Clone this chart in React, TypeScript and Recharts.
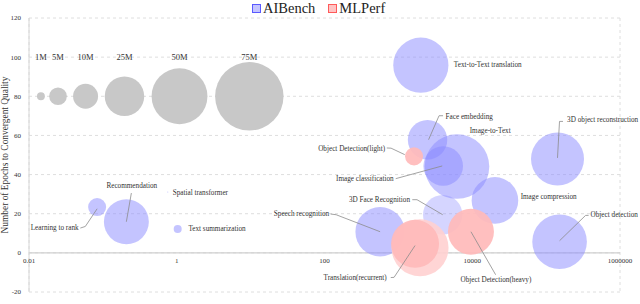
import {
  ScatterChart, Scatter, XAxis, YAxis, ZAxis, CartesianGrid, ReferenceLine, ReferenceDot,
} from 'recharts'

const FONT = '"Liberation Serif", "DejaVu Serif", "Noto Serif", "Times New Roman", serif'
const TEXT = '#333'

// grey size-legend bubbles (million parameters)
const SIZE_LABELS = ['1M', '5M', '10M', '25M', '50M', '75M']
const SIZE_PARAMS = [1, 5, 10, 25, 50, 75]
const SIZE_FLOPS = [0.0145, 0.0247, 0.0583, 0.196, 1.09, 9.6]
const SIZE_EPOCHS = 80
const SIZE_LABEL_EPOCHS = 100

const AIBENCH_TASKS = [
  'Recommendation', 'Learning to rank', 'Spatial transformer', 'Text summarization',
  'Speech recognition', 'Text-to-Text translation', 'Face embedding', '3D Face Recognition',
  'Image-to-Text', 'Image classification', 'Image compression', '3D object reconstruction',
  'Object detection',
]
const AIBENCH_FLOPS = [0.208, 0.0836, 0.755, 1.03, 566, 2014, 2483, 3981, 6213, 4045, 20280, 142600, 152100]
const AIBENCH_EPOCHS = [15.9, 23.4, 31.1, 12.2, 10.8, 95.9, 57.8, 19.5, 44.1, 44.4, 26.8, 48.0, 5.7]
const AIBENCH_PARAMS = [32.4, 5.2, 0.02, 1.03, 39.1, 48.8, 24.9, 24.9, 66.9, 25.1, 34.8, 45.0, 47.8]

const MLPERF_TASKS = ['Object Detection(light)', 'Translation(non-recurrent)', 'Translation(recurrent)', 'Object Detection(heavy)']
const MLPERF_FLOPS = [1630, 1965, 1682, 9600]
const MLPERF_EPOCHS = [49.3, 2.6, 4.6, 10.8]
const MLPERF_PARAMS = [5.2, 52, 36.9, 33.9]

const X_TICKS = [0.01, 1, 100, 10000, 1000000]
const Y_TICKS = [-20, 0, 20, 40, 60, 80, 100, 120]

const sizeData = SIZE_LABELS.map((label, i) => ({ label, x: SIZE_FLOPS[i], y: SIZE_EPOCHS, z: SIZE_PARAMS[i] }))
const sizeLabelData = SIZE_LABELS.map((label, i) => ({ label, x: SIZE_FLOPS[i], y: SIZE_LABEL_EPOCHS }))
const aibenchData = AIBENCH_TASKS.map((name, i) => ({ name, x: AIBENCH_FLOPS[i], y: AIBENCH_EPOCHS[i], z: AIBENCH_PARAMS[i] }))
const mlperfData = MLPERF_TASKS.map((name, i) => ({ name, x: MLPERF_FLOPS[i], y: MLPERF_EPOCHS[i], z: MLPERF_PARAMS[i] }))
const allData = [...aibenchData, ...mlperfData]

// bubble area in px^2 per million parameters
const AREA_PER_M = Math.PI * 3.95 * 3.95

const BLUE = { fill: '#8a8aff', opacity: 0.5 }
const RED = { fill: '#ffbaba', opacity: 0.92 }
const FILL_OVERRIDE: Record<string, { fill: string; opacity: number }> = {
  '3D Face Recognition': { fill: '#8a8aff', opacity: 0.36 },
  'Translation(non-recurrent)': { fill: '#ffd0d0', opacity: 0.9 },
}

type Layout = { dx: number; dy: number; anchor: 'start' | 'middle' | 'end'; leader?: [number, number][] }
const LABELS: Record<string, Layout> = {
  'Text-to-Text translation': { dx: 33, dy: 0, anchor: 'start' },
  'Face embedding': { dx: 18, dy: -23, anchor: 'start', leader: [[1, 0], [11.5, -24], [15.5, -24]] },
  'Image-to-Text': { dx: 12.7, dy: -36, anchor: 'start' },
  'Image classification': { dx: -49.5, dy: 13, anchor: 'end', leader: [[-1, 0], [-47.5, 12.7]] },
  '3D object reconstruction': { dx: 9.6, dy: -38.5, anchor: 'start', leader: [[0, -1], [2, -37.5], [5.5, -37.5]] },
  'Image compression': { dx: 25.7, dy: -3.4, anchor: 'start' },
  'Object detection': { dx: 31, dy: -26.7, anchor: 'start', leader: [[0, -1], [26, -26.3], [29, -26.3]] },
  'Speech recognition': { dx: -51, dy: -17.7, anchor: 'end', leader: [[-49.5, -17.7], [-44, -17], [0, 0]] },
  '3D Face Recognition': { dx: -32.7, dy: -15, anchor: 'end', leader: [[-30.4, -15], [-25.7, -15], [0, 0]] },
  'Recommendation': { dx: 5.4, dy: -35.3, anchor: 'middle', leader: [[0, 0], [5, -28.7]] },
  'Learning to rank': { dx: -18.5, dy: 21, anchor: 'end', leader: [[-16.8, 21], [-11.8, 19.4], [0, 1.7]] },
  'Text summarization': { dx: 10.7, dy: 0, anchor: 'start' },
  'Spatial transformer': { dx: 5, dy: 1, anchor: 'start' },
  'Object Detection(light)': { dx: -29, dy: -7.4, anchor: 'end', leader: [[-27.3, -8.4], [-23, -8.2], [-9.3, -1.7]] },
  'Translation(recurrent)': { dx: -28.3, dy: 34.3, anchor: 'end', leader: [[-24.3, 33.7], [-21, 33.5], [0, 1.7]] },
  'Object Detection(heavy)': { dx: 25, dy: 48, anchor: 'middle', leader: [[0, 0], [24.7, 43]] },
}

const bubble = (base: { fill: string; opacity: number }) => (props: any) => {
  const { cx, cy, width, payload } = props
  const style = FILL_OVERRIDE[payload?.name] ?? base
  return <circle cx={cx} cy={cy} r={Math.max(width / 2, 0.5)} fill={style.fill} fillOpacity={style.opacity} />
}

const greyBubble = (props: any) => (
  <circle cx={props.cx} cy={props.cy} r={props.width / 2} fill="#c8c8c8" />
)

const sizeLabel = (props: any) => (
  <text x={props.cx} y={props.cy} textAnchor="middle" dominantBaseline="central"
    fontSize={8.5} fontFamily={FONT} fill={TEXT}>
    {props.payload.label}
  </text>
)

const annotation = (props: any) => {
  const { cx, cy, payload } = props
  const lay = LABELS[payload.name]
  if (!lay) return <g />
  return (
    <g>
      {lay.leader && (
        <polyline
          points={lay.leader.map(([dx, dy]) => `${cx + dx},${cy + dy}`).join(' ')}
          fill="none" stroke="#8c8c8c" strokeWidth={0.8}
        />
      )}
      <text x={cx + lay.dx} y={cy + lay.dy} textAnchor={lay.anchor} dominantBaseline="central"
        fontSize={7.2} fontFamily={FONT} fill={TEXT}>
        {payload.name}
      </text>
    </g>
  )
}

function LegendBox() {
  const item = (label: string, border: string, fill: string) => (
    <div style={{ display: 'flex', alignItems: 'center', gap: 2 }}>
      <span style={{ width: 7, height: 7, border: `1.5px solid ${border}`, background: fill, display: 'inline-block' }} />
      <span>{label}</span>
    </div>
  )
  return (
    <div style={{
      position: 'absolute', top: -1, left: 252, display: 'flex', gap: 13,
      fontFamily: FONT, fontSize: 14.5, color: '#222', lineHeight: '18px',
    }}>
      {item('AIBench', '#5a5aff', '#c4c4ff')}
      {item('MLPerf', '#ff5a5a', '#ffc4c4')}
    </div>
  )
}

export default function App() {
  return (
    <div style={{ position: 'absolute', left: 0, top: 0, width: 640, height: 304, background: '#fff', fontFamily: FONT }}>
      <ScatterChart width={640} height={304} margin={{ top: 18, right: 20, bottom: 12, left: 0 }} style={{ fontFamily: FONT }}>
        <CartesianGrid strokeDasharray="3 3" stroke="#dedede" />
        <XAxis
          dataKey="x" type="number" scale="log" domain={[0.01, 1000000]} ticks={X_TICKS}
          height={0} tick={false} tickLine={false} axisLine={false}
          label={{ value: 'Operations/M-FLOPs', position: 'bottom', offset: 1, fontSize: 9.4, fontFamily: FONT, fill: TEXT }}
        />
        <YAxis
          dataKey="y" type="number" domain={[-20, 120]} ticks={Y_TICKS} width={29}
          tick={{ fontSize: 7, fontFamily: FONT, fill: TEXT }} tickLine={false}
          axisLine={{ stroke: '#d6d6d6' }}
          label={{ value: 'Number of Epochs to Convergent Quality', angle: -90, position: 'insideLeft', offset: 5, fontSize: 9.4, fontFamily: FONT, fill: TEXT, style: { textAnchor: 'middle' } }}
        />
        <ZAxis dataKey="z" type="number" domain={[0, 75]} range={[0, AREA_PER_M * 75]} />
        <ReferenceLine y={0} stroke="#cfcfcf" strokeWidth={1.2} />
        {X_TICKS.map(t => (
          <ReferenceDot key={t} x={t} y={0} r={0} stroke="none" fill="none"
            label={{ value: String(t), position: 'bottom', offset: 5, fontSize: 7, fontFamily: FONT, fill: TEXT }} />
        ))}
        <Scatter name="size" data={sizeData} shape={greyBubble} legendType="none" isAnimationActive={false} />
        <Scatter name="sizeLabels" data={sizeLabelData} shape={sizeLabel} legendType="none" isAnimationActive={false} />
        <Scatter name="AIBench" data={aibenchData} shape={bubble(BLUE)} isAnimationActive={false} />
        <Scatter name="MLPerf" data={mlperfData} shape={bubble(RED)} isAnimationActive={false} />
        <Scatter name="labels" data={allData} shape={annotation} legendType="none" isAnimationActive={false} />
      </ScatterChart>
      <LegendBox />
    </div>
  )
}
